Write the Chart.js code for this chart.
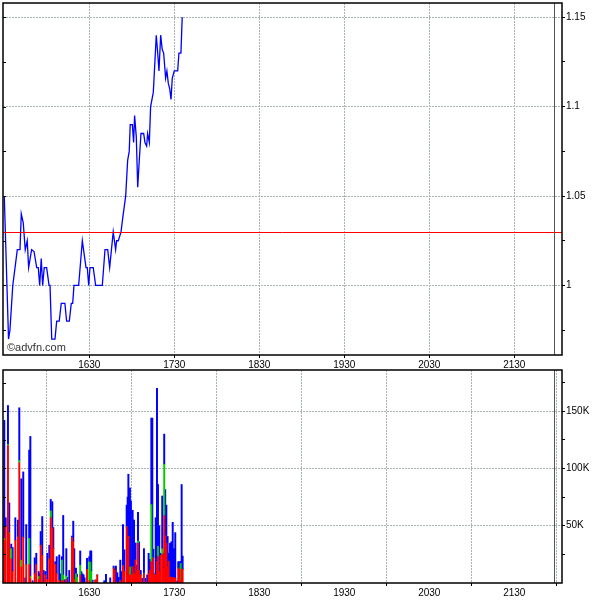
<!DOCTYPE html>
<html>
<head>
<meta charset="utf-8">
<script src="https://cdn.jsdelivr.net/npm/chart.js@4.4.1/dist/chart.umd.min.js"></script>
<style>
    html, body { margin: 0; padding: 0; background: #fff; overflow: hidden; }
    #wrap { position: relative; width: 600px; height: 600px; overflow: hidden; }
    canvas { position: absolute; left: 0; }
    #priceCanvas { top: -4px; }
    #volCanvas { top: 363px; }
</style>
</head>
<body>
<div id="wrap">
    <canvas id="priceCanvas" width="600" height="374" style="width:600px;height:374px"></canvas>
    <canvas id="volCanvas" width="600" height="237" style="width:600px;height:237px"></canvas>
</div>
<script>
// minutes after 15:30
const xTicks = [60, 120, 180, 240, 300, 360];
const xTickLabels = ['1630', '1730', '1830', '1930', '2030', '2130'];
const sessionEnd = 388;

const priceMinutes = [0, 3, 4, 6, 7.6, 9.2, 11.1, 12, 13.4, 14.8, 16.2, 17.2, 19.3, 21, 22.9, 24, 25, 26.1, 27.1, 28.2,
    29.9, 31.6, 32.3, 33.5, 35.8, 37, 38.8, 40.2, 42.8, 44, 45.9, 47.3, 48.3, 49.2, 52.5, 55.1, 57.7, 58.6, 59.6, 60.5,
    62.8, 64.5, 69.2, 71.1, 73, 74.4, 76.9, 78.6, 79.3, 80.5, 82.4, 84, 85.7, 87.1, 88.2, 88.9, 90.4, 91.3, 92, 93.2,
    94.2, 95.3, 96.5, 98.4, 99.3, 100.5, 101.2, 102.4, 103.3, 105.2, 107.3, 108.3, 109.2, 110.4, 111.5, 112.5, 113.9,
    114.8, 115.8, 116.8, 117.7, 118.6, 120, 122.4, 123.3, 124.7, 125.6];
const prices = [1.05, 0.97, 0.975, 1.0, 1.01, 1.02, 1.02, 1.04, 1.035, 1.02, 1.025, 1.01, 1.02, 1.019, 1.01, 1.01, 1.0, 1.015, 1.0, 1.01,
    1.01, 1.0, 1.0, 0.97, 0.97, 0.98, 0.98, 0.99, 0.99, 0.98, 0.98, 0.99, 0.99, 1.0, 1.0, 1.025, 1.01, 1.01, 1.0, 1.01,
    1.01, 1.0, 1.0, 1.02, 1.02, 1.01, 1.03, 1.02, 1.025, 1.025, 1.03, 1.04, 1.05, 1.07, 1.075, 1.09, 1.09, 1.08, 1.095, 1.083,
    1.055, 1.07, 1.085, 1.085, 1.08, 1.078, 1.085, 1.08, 1.1, 1.108, 1.14, 1.13, 1.12, 1.14, 1.132, 1.13, 1.116,
    1.12, 1.113, 1.11, 1.104, 1.116, 1.12, 1.12, 1.13, 1.13, 1.15];
const prevClose = 1.03;
const priceTicks = [0.975, 1, 1.025, 1.05, 1.075, 1.1, 1.125, 1.15];
const priceTickLabels = ['', '1', '', '1.05', '', '1.1', '', '1.15'];

// volume in thousands
const volMinutes = [0, 1, 2.6, 3.5, 4.9, 5.9, 7.8, 9.7, 10.6, 12, 13.4, 14.8, 15.5, 17.6, 18.4, 20, 21.5, 22.6, 24.3, 24.7,
    25.7, 26.8, 27.8, 29, 30.4, 31.8, 32.8, 33.9, 34.6, 36, 37, 38.8, 39.8, 40.7, 41.6, 42.8, 43.8, 44.5, 45.9, 47.8,
    48.7, 49.4, 50.6, 51.3, 53.6, 54.4, 55.3, 56, 56.7, 58.4, 60, 60.7, 61.4, 62.4, 64.2, 64.9, 65.6, 70.6, 71.8, 74.8,
    77.2, 77.9, 78.8, 79.8, 80.8, 81.9, 82.6, 83.8, 84.8, 86.4, 87.1, 87.6, 88.7, 89.4, 90.6, 91.6, 92.7, 93.5, 94.4, 95.1,
    96.3, 97.4, 98.6, 99.5, 100.9, 101.9, 102.8, 103.8, 104.5, 105.2, 106.2, 106.9, 107.8, 108.5, 109.4, 110.4, 111.5, 112.2, 112.9, 113.6,
    114.4, 115.3, 116, 117, 117.9, 118.9, 119.8, 120.7, 122.1, 122.8, 123.5, 124.5, 125.2, 125.9];
const volRed = [37, 49, 120, 43, 21, 10, 37, 40, 105, 14, 40, 0, 16, 16, 4, 0, 8, 16, 3, 0,
    33, 24, 0, 7, 3, 21, 57, 48, 30, 16, 8, 2, 0, 2, 2, 0, 3, 0, 0, 39.7,
    36, 3, 0, 0, 7, 0, 0, 0, 0, 12, 2, 0, 0, 0, 2.5, 2.5, 7, 0, 0, 0,
    13, 11, 0, 0, 0, 2, 0, 15, 10, 49, 37.6, 40.6, 7, 7, 14, 8, 20, 11, 34.7, 11,
    7, 0, 8, 0, 0, 8, 11, 18.6, 15, 22, 7, 7, 18.6, 23, 10, 24, 25, 12, 58.8, 41,
    34.7, 14, 19, 5, 5, 4, 5, 4, 0, 13, 12, 2, 12, 12];
const volGreen = [2, 0, 1, 1, 9, 0, 0, 0, 2, 6, 0, 0, 0, 23, 2, 0, 0, 0, 3, 0,
    0, 0, 0, 0, 0, 0, 6, 0, 0, 0, 0, 0, 0, 18, 5, 0, 3, 0, 0, 0,
    0, 0, 8, 5, 8.6, 0, 0, 0, 0, 0, 16.6, 18, 10, 0, 0, 0, 0, 0, 0, 0,
    0, 0, 0, 0, 0, 0, 0, 0, 0, 0, 0, 0, 7, 0, 0, 0, 0, 0, 2, 0,
    0, 0, 0, 0, 0, 0, 0, 50, 0, 0, 0, 0, 0, 9, 0, 0, 5, 0, 44.8, 0,
    0, 0, 0, 0, 0, 0, 0, 0, 0, 0, 0, 15, 0, 0];
const volBlue = [103, 8, 34, 26, 4, 21, 20, 15, 46, 71, 57, 4.5, 35, 77, 122, 2, 14, 10, 4, 8,
    12, 34, 11, 3, 23, 12, 10, 23, 18.5, 2.6, 15, 22.5, 8, 3, 52, 3, 24, 5, 11, 1.3,
    18, 27, 5, 2.7, 12.4, 10, 8, 7, 4.5, 9.5, 4.4, 10, 18, 2.5, 0, 0, 0, 2, 7.5, 4.5,
    1.8, 2, 14.8, 9, 5, 18, 10, 36, 19, 19, 37.4, 54.4, 69, 64.5, 49.5, 47, 15, 4.6, 25, 25,
    4, 4, 22, 4, 7, 18, 9.6, 75.4, 129, 7.5, 1, 50, 151.4, 54, 40, 2, 46, 14, 26.4, 40.6,
    33.3, 26.6, 7, 29.7, 31, 49, 25, 40, 2, 5.6, 6.6, 2, 74, 11.5];
const volTicks = [25, 50, 75, 100, 125, 150, 175];
const volTickLabels = ['', '50K', '', '100K', '', '150K', ''];

const tickFont = { family: 'Liberation Sans, Arial, sans-serif', size: 10 };
const gridColor = '#a6b4b4';

// frame, session end line, previous close, watermark
const panelMarks = {
    id: 'panelMarks',
    afterDraw(chart, args, opts) {
        const { ctx, chartArea: a, scales } = chart;
        ctx.save();
        if (opts.prevClose !== undefined) {
            const y = Math.round(scales.y.getPixelForValue(opts.prevClose)) + 0.5;
            ctx.strokeStyle = '#ff0000';
            ctx.lineWidth = 1;
            ctx.beginPath();
            ctx.moveTo(a.left, y);
            ctx.lineTo(a.right, y);
            ctx.stroke();
        }
        const xe = Math.round(scales.x.getPixelForValue(sessionEnd)) + 0.5;
        ctx.strokeStyle = '#555';
        ctx.lineWidth = 1;
        ctx.beginPath();
        ctx.moveTo(xe, a.top);
        ctx.lineTo(xe, a.bottom);
        ctx.stroke();

        // inner ticks on left border
        ctx.strokeStyle = '#000';
        scales.y.ticks.forEach(t => {
            const y = Math.round(scales.y.getPixelForValue(t.value)) + 0.5;
            ctx.beginPath();
            ctx.moveTo(a.left, y);
            ctx.lineTo(a.left + 3, y);
            ctx.stroke();
        });

        ctx.lineWidth = 1.5;
        ctx.strokeRect(a.left, a.top, a.right - a.left, a.bottom - a.top);

        if (opts.watermark) {
            ctx.fillStyle = '#333';
            ctx.font = '11px Liberation Sans, Arial, sans-serif';
            ctx.textBaseline = 'bottom';
            ctx.fillText(opts.watermark, a.left + 4, a.bottom - 2);
        }
        ctx.restore();
    }
};

function timeAxis(height) {
    return {
        type: 'linear',
        min: -0.9,
        max: 393.7,
        afterBuildTicks: s => { s.ticks = xTicks.map(v => ({ value: v })); },
        afterFit: s => { s.height = height; },
        ticks: {
            callback: (v, i) => xTickLabels[i],
            font: tickFont, color: '#000', padding: 1,
            maxRotation: 0, autoSkip: false
        },
        grid: { color: gridColor, tickColor: '#000', tickLength: 3 },
        border: { display: false, dash: [2, 1] }
    };
}

function valueAxis(min, max, ticks, labels) {
    return {
        type: 'linear',
        position: 'right',
        min: min,
        max: max,
        afterBuildTicks: s => { s.ticks = ticks.map(v => ({ value: v })); },
        afterFit: s => { s.width = 38; },
        ticks: {
            callback: (v, i) => labels[i],
            font: tickFont, color: '#000', padding: 1
        },
        grid: {
            color: c => (labels[c.index] ? gridColor : 'transparent'),
            tickColor: '#000',
            tickLength: 3
        },
        border: { display: false, dash: [2, 1] }
    };
}

Chart.defaults.animation = false;

new Chart(document.getElementById('priceCanvas'), {
    type: 'line',
    data: {
        datasets: [{
            data: priceMinutes.map((m, i) => ({ x: m, y: prices[i] })),
            borderColor: '#0000ff',
            borderWidth: 1.3,
            pointRadius: 0,
            tension: 0
        }]
    },
    options: {
        responsive: false,
        layout: { padding: { top: 3, left: 3, right: 0, bottom: 0 } },
        plugins: {
            legend: { display: false },
            tooltip: { enabled: false },
            panelMarks: { prevClose: prevClose, watermark: '©advfn.com' }
        },
        scales: {
            x: timeAxis(15),
            y: valueAxis(0.9611, 1.158, priceTicks, priceTickLabels)
        }
    },
    plugins: [panelMarks]
});

const bar = (vals, color) => ({
    data: volMinutes.map((m, i) => ({ x: m, y: vals[i] })),
    backgroundColor: color,
    barThickness: 1.3,
    borderWidth: 0
});

new Chart(document.getElementById('volCanvas'), {
    type: 'bar',
    data: {
        datasets: [bar(volRed, '#ff0000'), bar(volGreen, '#00cc00'), bar(volBlue, '#0000ff')]
    },
    options: {
        responsive: false,
        layout: { padding: { top: 3, left: 3, right: 0, bottom: 0 } },
        plugins: {
            legend: { display: false },
            tooltip: { enabled: false },
            panelMarks: {}
        },
        scales: {
            x: Object.assign(timeAxis(17), { stacked: true, offset: false }),
            y: Object.assign(valueAxis(0, 186, volTicks, volTickLabels), { stacked: true })
        }
    },
    plugins: [panelMarks]
});
</script>
</body>
</html>
